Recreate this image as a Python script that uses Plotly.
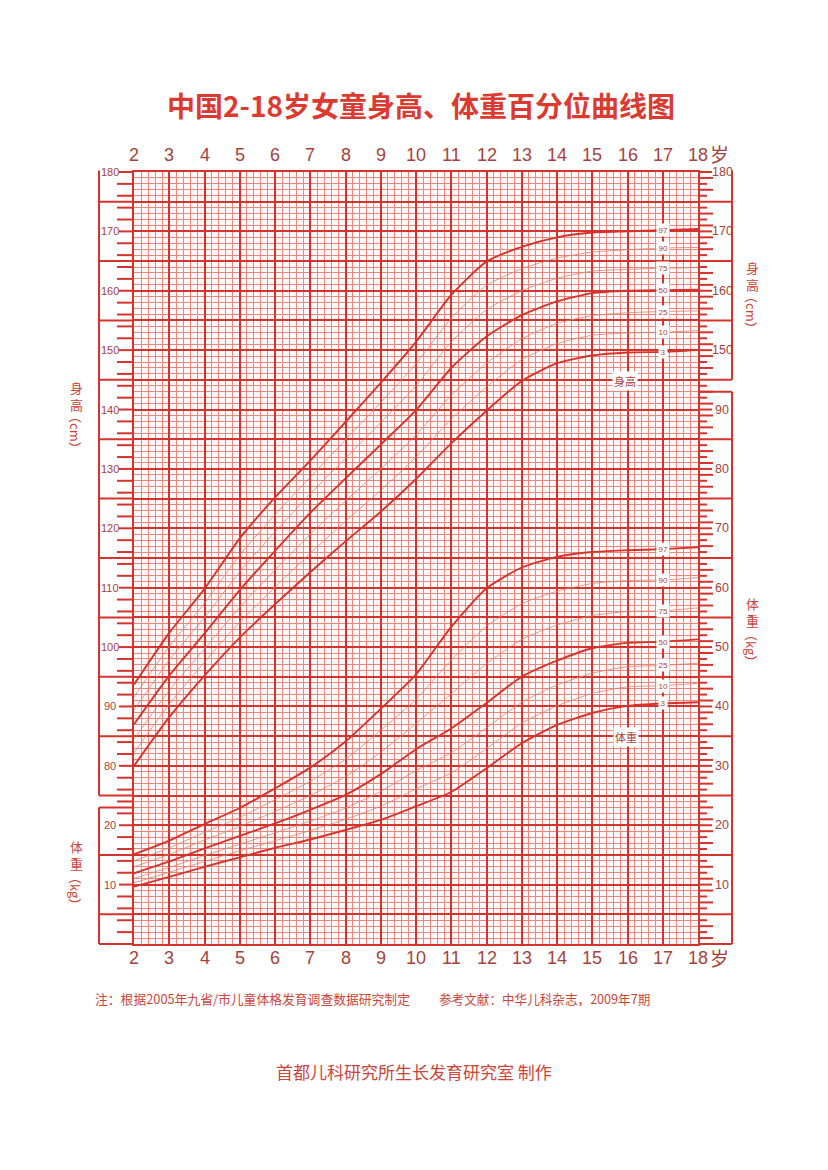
import plotly.graph_objects as go

# ---------------- data ----------------
ages = [2, 3, 4, 5, 6, 7, 8, 9, 10, 11, 12, 13, 14, 15, 16, 17, 18]
age_ticks = [2, 3, 4, 5, 6, 7, 8, 9, 10, 11, 12, 13, 14, 15, 16, 17, 18]
percentile_names = ["3", "10", "25", "50", "75", "90", "97"]
thick_percentiles = ["3", "50", "97"]

height_p3 = [80.0, 88.2, 95.2, 101.6, 107.2, 112.6, 117.8, 122.8, 128.3, 134.3, 139.8, 144.8, 147.8, 149.1, 149.6, 149.7, 150.0]
height_p10 = [82.2, 90.4, 97.5, 104.2, 110.1, 115.8, 121.2, 126.4, 132.0, 138.4, 143.8, 148.4, 151.1, 152.5, 152.9, 153.0, 153.3]
height_p25 = [84.5, 92.7, 99.7, 106.7, 113.0, 119.0, 124.6, 130.0, 135.7, 142.4, 147.8, 151.9, 154.5, 155.8, 156.3, 156.5, 156.6]
height_p50 = [87.0, 95.2, 102.3, 109.6, 116.2, 122.6, 128.4, 134.1, 139.9, 147.0, 152.3, 155.9, 158.2, 159.6, 160.0, 160.1, 160.2]
height_p75 = [89.4, 97.8, 105.0, 112.7, 119.4, 125.8, 131.8, 137.8, 144.0, 151.4, 156.8, 160.0, 162.1, 163.3, 163.6, 163.8, 163.9]
height_p90 = [91.6, 100.1, 107.4, 115.5, 122.3, 128.6, 134.9, 141.2, 147.7, 155.4, 160.9, 163.7, 165.5, 166.5, 166.9, 167.2, 167.3]
height_p97 = [93.7, 102.4, 109.8, 118.3, 125.2, 131.4, 137.9, 144.5, 151.4, 159.3, 164.9, 167.4, 169.0, 169.8, 170.0, 170.2, 170.4]

weight_p3 = [9.65, 11.3, 13.0, 14.6, 16.2, 17.6, 19.2, 20.9, 23.2, 25.6, 29.6, 33.8, 36.9, 38.9, 40.1, 40.5, 40.7]
weight_p10 = [10.3, 12.1, 13.9, 15.7, 17.4, 19.1, 21.0, 23.2, 26.1, 28.8, 32.9, 37.2, 40.1, 42.2, 43.3, 43.5, 43.9]
weight_p25 = [11.05, 12.9, 14.9, 16.8, 18.7, 20.7, 22.9, 25.7, 29.2, 32.2, 36.4, 40.7, 43.6, 45.6, 46.7, 46.9, 47.3]
weight_p50 = [11.9, 13.9, 16.1, 18.2, 20.3, 22.6, 25.1, 28.6, 32.8, 36.3, 40.6, 45.0, 47.7, 49.8, 50.7, 50.9, 51.3]
weight_p75 = [13.0, 15.1, 17.5, 19.8, 22.3, 25.0, 28.2, 32.3, 37.1, 42.1, 47.2, 51.3, 53.7, 55.3, 56.0, 56.1, 56.6]
weight_p90 = [14.0, 16.2, 18.8, 21.3, 24.3, 27.4, 31.1, 36.0, 41.2, 47.8, 53.5, 57.3, 59.4, 60.7, 61.2, 61.3, 61.7]
weight_p97 = [15.1, 17.4, 20.2, 22.9, 26.2, 29.7, 34.1, 39.6, 45.4, 53.4, 59.9, 63.4, 65.2, 66.0, 66.3, 66.5, 66.8]

height_labels_left = [80, 90, 100, 110, 120, 130, 140, 150, 160, 170, 180]
weight_labels_left = [10, 20]
height_labels_right = [150, 160, 170, 180]
weight_labels_right = [10, 20, 30, 40, 50, 60, 70, 80, 90]

title_text = "中国2-18岁女童身高、体重百分位曲线图"
note_left = "注：根据2005年九省/市儿童体格发育调查数据研究制定"
note_right = "参考文献：中华儿科杂志，2009年7期"
credit_text = "首都儿科研究所生长发育研究室 制作"

heights = dict(zip(percentile_names, [height_p3, height_p10, height_p25, height_p50, height_p75, height_p90, height_p97]))
weights = dict(zip(percentile_names, [weight_p3, weight_p10, weight_p25, weight_p50, weight_p75, weight_p90, weight_p97]))

# ---------------- geometry (page pixels; the page body has an 8px margin) ----------------
OFF = 8
PAGE_W, PAGE_H = 828, 1170
GX0, GX1, GY0, GY1 = 134, 698, 172, 944   # grid box in page pixels
FIG_W, FIG_H = PAGE_W - OFF, PAGE_H - OFF
ML, MT = GX0 - OFF, GY0 - OFF
MR = FIG_W - ML - (GX1 - GX0)
MB = FIG_H - MT - (GY1 - GY0)

W_MIN, W_MAX = 0, 130          # weight axis (kg)
H_MIN, H_MAX = 50, 180         # height axis (cm), shares the vertical scale
RED = "#d5332b"
MINOR = "#ed857c"
THIN = "#d98270"
TXT = "#a8413a"
LAB = "#d04337"
CJK = "Noto Sans CJK SC"
NUMF = "Liberation Sans, Arial, sans-serif"


def xp(px):
    return (px - GX0) / (GX1 - GX0)


def ypix(py):
    return (GY1 - py) / (GY1 - GY0)


def yp(w):
    return (w - W_MIN) / (W_MAX - W_MIN)


fig = go.Figure()

for p in percentile_names:
    thick = p in thick_percentiles
    style = dict(color=RED if thick else THIN, width=1.9 if thick else 0.8, shape="spline", smoothing=0.6)
    fig.add_trace(go.Scatter(x=ages, y=heights[p], yaxis="y2", mode="lines", line=style,
                             hoverinfo="skip", showlegend=False))
    fig.add_trace(go.Scatter(x=ages, y=weights[p], yaxis="y", mode="lines", line=style,
                             hoverinfo="skip", showlegend=False))

annotations = []


def ann(**kw):
    kw.setdefault("showarrow", False)
    kw.setdefault("xanchor", "center")
    kw.setdefault("yanchor", "middle")
    annotations.append(kw)


# percentile labels at age 17
idx17 = ages.index(17)
for p in percentile_names:
    for series, yref in ((heights, "y2"), (weights, "y")):
        ann(x=17, y=series[p][idx17], xref="x", yref=yref, text=p,
            font=dict(size=8, color=TXT, family=NUMF), bgcolor="white", borderpad=1.5)

ann(x=15.93, y=144.8, xref="x", yref="y2", text="身高",
    font=dict(size=11, color=TXT, family=CJK), bgcolor="white", borderpad=1)
ann(x=15.95, y=34.8, xref="x", yref="y", text="体重",
    font=dict(size=11, color=TXT, family=CJK), bgcolor="white", borderpad=1)

# age labels top and bottom
for a in age_ticks:
    for py in (155, 958):
        ann(x=a, y=ypix(py), xref="x", yref="paper", text=str(a),
            font=dict(size=18, color=TXT, family=NUMF))
for py in (154, 957):
    ann(x=xp(719), y=ypix(py), xref="paper", yref="paper", text="岁",
        font=dict(size=19, color=TXT, family=CJK))

shapes = []


def seg(x0, y0, x1, y1, width=2.0, color=RED):
    shapes.append(dict(type="line", xref="paper", yref="paper", x0=x0, y0=y0, x1=x1, y1=y1,
                       line=dict(color=color, width=width), layer="above"))


# ---- left scale ----
LX_BOX = 99
for w in range(0, 131):
    y = yp(w)
    if w % 10 == 0:
        h = w + H_MIN
        lab = None
        if w >= 30 and h in height_labels_left:
            lab = h
        elif w in weight_labels_left:
            lab = w
        if lab is not None:
            ann(x=xp(110), y=y, xref="paper", yref="paper", text=str(lab),
                font=dict(size=11, color=TXT, family=NUMF))
            seg(xp(119), y, 0, y, 2)
    elif w % 5 == 0:
        seg(xp(LX_BOX), y, 0, y, 2)
    elif w % 2 == 0:
        seg(xp(117), y, 0, y, 2)
seg(xp(LX_BOX), yp(23), 0, yp(23), 2)
seg(xp(LX_BOX), yp(0), 0, yp(0), 2)
seg(xp(LX_BOX), yp(25), xp(LX_BOX), yp(130) + 0.002, 2)
seg(xp(LX_BOX), yp(0), xp(LX_BOX), yp(23), 2)

# ---- right scale ----
RX_BOX = 732
for w in range(0, 131):
    y = yp(w)
    if w % 10 == 0:
        h = w + H_MIN
        lab = None
        if w >= 100 and h in height_labels_right:
            lab = h
        elif w in weight_labels_right:
            lab = w
        if lab is not None:
            ann(x=xp(722), y=y, xref="paper", yref="paper", text=str(lab),
                font=dict(size=12.5, color=TXT, family=NUMF))
            seg(1, y, xp(712), y, 2)
    elif w % 5 == 0:
        seg(1, y, xp(RX_BOX), y, 2)
    else:
        seg(1, y, xp(713 if w % 2 else 707), y, 2)
seg(1, yp(93), xp(RX_BOX), yp(93), 2)
seg(1, yp(0), xp(RX_BOX), yp(0), 2)
seg(xp(RX_BOX), yp(95), xp(RX_BOX), yp(130) + 0.002, 2)
seg(xp(RX_BOX), yp(0), xp(RX_BOX), yp(93), 2)


# ---- side titles ----
def side_title(px, py_top, chars, unit):
    ann(x=xp(px), y=ypix(py_top), xref="paper", yref="paper", text="<br>".join(chars),
        yanchor="top", font=dict(size=13, color=LAB, family=CJK))
    ann(x=xp(px), y=ypix(py_top + 56), xref="paper", yref="paper", text=unit,
        textangle=90, font=dict(size=13, color=LAB, family=CJK))


side_title(76, 376, ["身", "高"], "（cm）")
side_title(76, 835, ["体", "重"], "（kg）")
side_title(752, 256, ["身", "高"], "（cm）")
side_title(752, 592, ["体", "重"], "（kg）")

# ---- titles and notes ----
ann(x=xp(421), y=ypix(105), xref="paper", yref="paper",
    text="<b>" + title_text + "</b>", font=dict(size=28, color="#dc3a30", family=CJK))
ann(x=xp(412), y=ypix(998), xref="paper", yref="paper", xanchor="right",
    text=note_left, font=dict(size=12.8, color=LAB, family=CJK))
ann(x=xp(437), y=ypix(998), xref="paper", yref="paper", xanchor="left",
    text=note_right, font=dict(size=12.6, color=LAB, family=CJK))
ann(x=xp(414), y=ypix(1071), xref="paper", yref="paper",
    text=credit_text, font=dict(size=17, color=LAB, family=CJK))

fig.update_layout(
    width=FIG_W, height=FIG_H, autosize=False,
    margin=dict(l=ML, r=MR, t=MT, b=MB, pad=0),
    paper_bgcolor="white", plot_bgcolor="#fffafa",
    showlegend=False,
    xaxis=dict(range=[2, 18], showticklabels=False, ticks="", zeroline=False,
               showgrid=True, gridcolor=RED, gridwidth=2, tick0=2, dtick=1,
               minor=dict(showgrid=True, tick0=2, dtick=0.2, gridcolor=MINOR, gridwidth=1),
               showline=True, linecolor=RED, linewidth=2, mirror=True),
    yaxis=dict(range=[W_MIN, W_MAX], showticklabels=False, ticks="", zeroline=False,
               showgrid=True, gridcolor=RED, gridwidth=2, tick0=0, dtick=5,
               minor=dict(showgrid=True, tick0=0, dtick=1, gridcolor=MINOR, gridwidth=1),
               showline=True, linecolor=RED, linewidth=2, mirror=True),
    yaxis2=dict(range=[H_MIN, H_MAX], overlaying="y", side="right", visible=False,
                showgrid=False, zeroline=False),
    annotations=annotations,
    shapes=shapes,
)

fig.write_html("out.html")
